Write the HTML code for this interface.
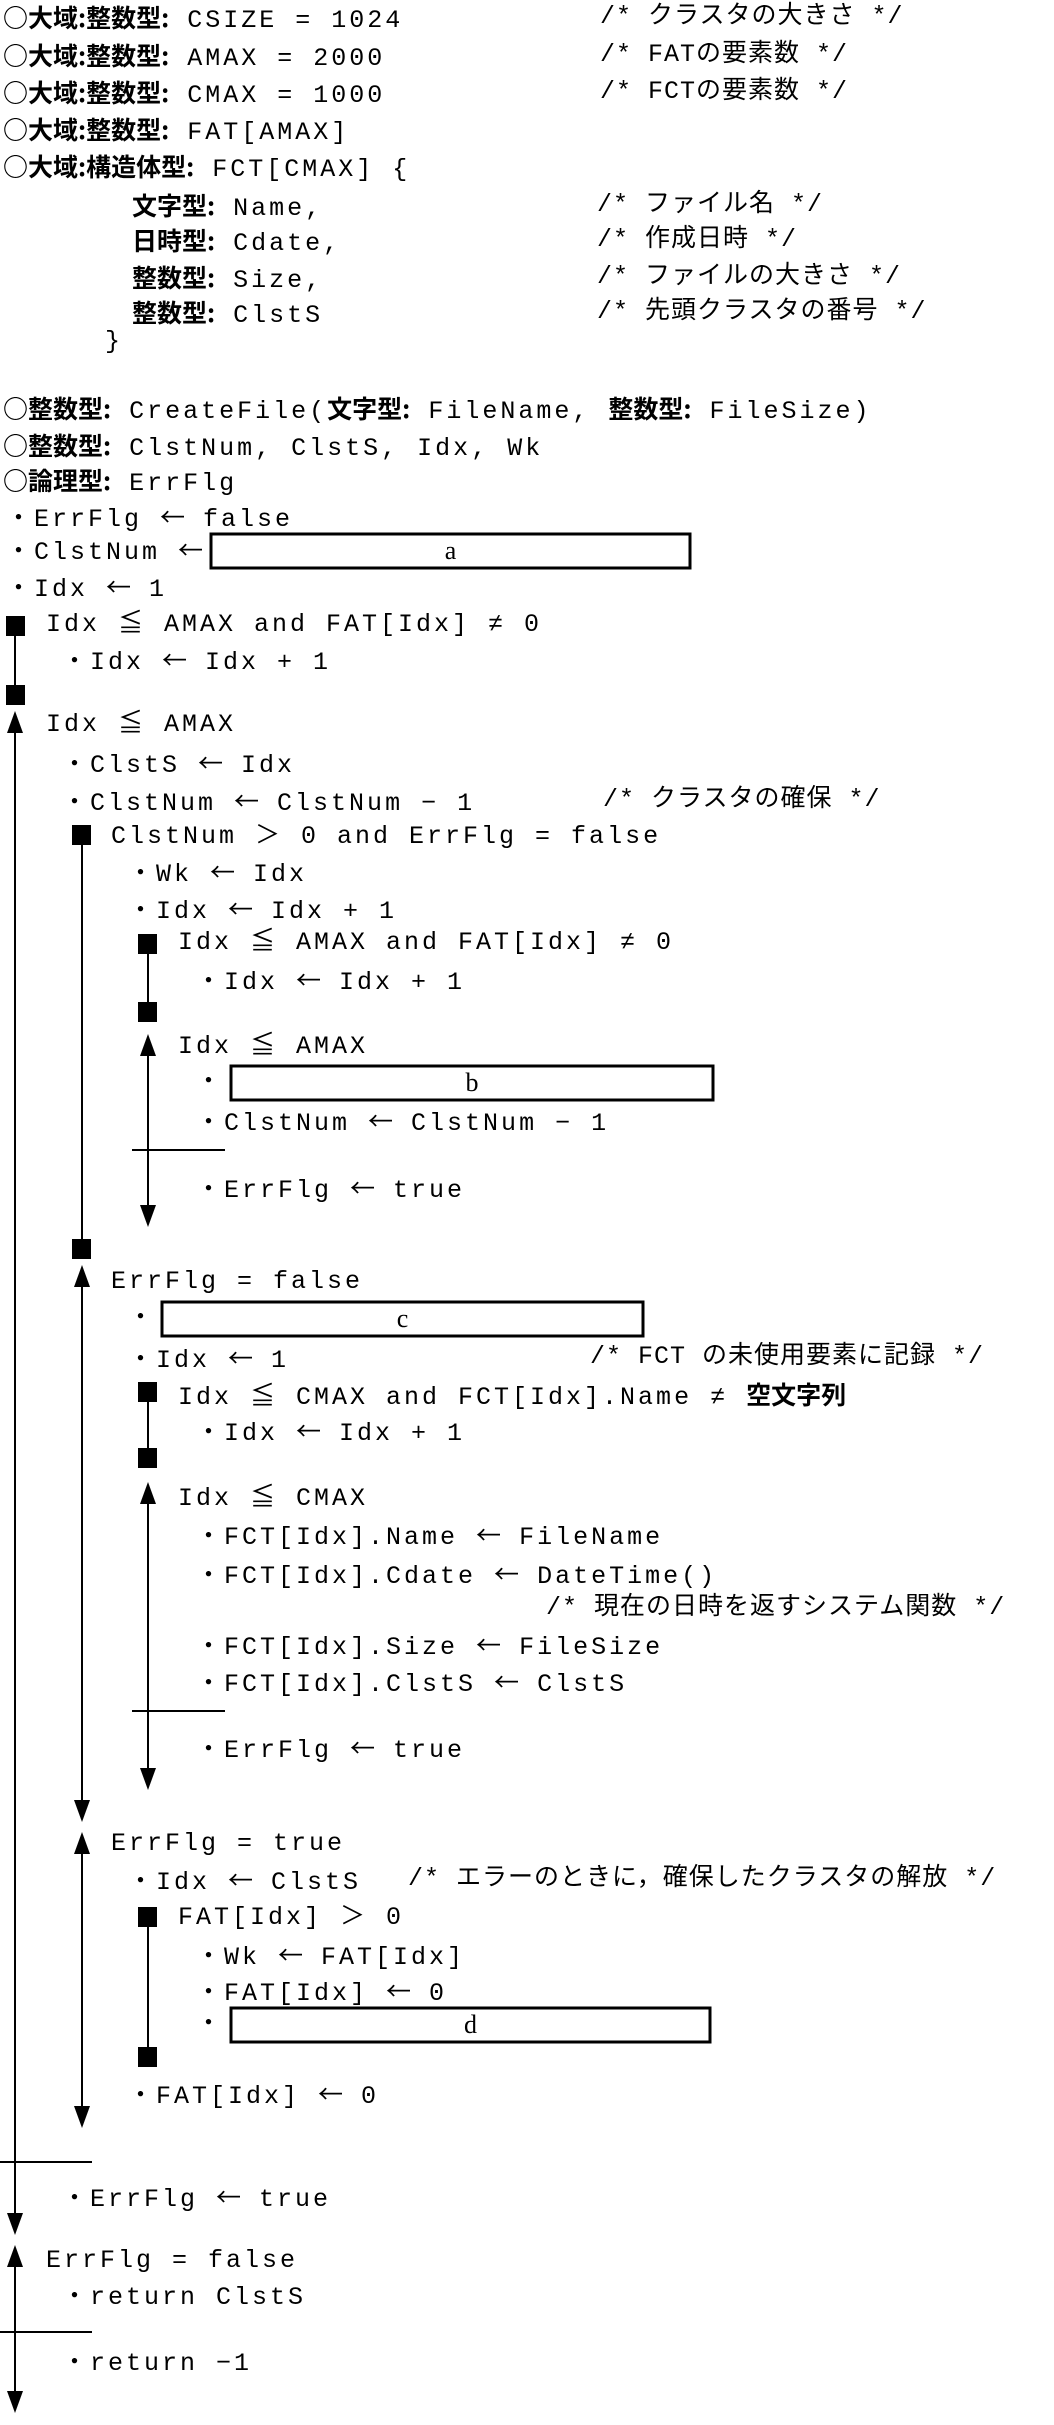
<!DOCTYPE html>
<html><head><meta charset="utf-8"><style>
body{margin:0;background:#fff;width:1054px;height:2425px;position:relative;overflow:hidden}
.t{position:absolute;white-space:pre;font-family:"Liberation Mono","Noto Sans CJK JP",monospace;font-size:25px;line-height:28px;letter-spacing:3px;color:#000}
.j{font-family:"Noto Sans CJK JP",sans-serif;letter-spacing:0;font-weight:bold}
.a{font-family:"Noto Sans CJK JP",sans-serif;letter-spacing:0}
.c{font-family:"Liberation Mono","Noto Sans CJK JP",monospace;letter-spacing:1px}
.bl{position:absolute;font-family:"Liberation Serif",serif;font-size:26px;text-align:center;line-height:30px}
svg{position:absolute;left:0;top:0}
</style></head><body>
<svg width="1054" height="2425">
<g fill="#000" stroke="none">
<rect x="6" y="616" width="19" height="20"/><rect x="6" y="685" width="19" height="20"/>
<rect x="72" y="825" width="19" height="20"/><rect x="72" y="1239" width="19" height="20"/>
<rect x="138" y="934" width="19" height="20"/><rect x="138" y="1002" width="19" height="20"/>
<rect x="138" y="1382" width="19" height="20"/><rect x="138" y="1448" width="19" height="20"/>
<rect x="138" y="1907" width="19" height="20"/><rect x="138" y="2047" width="19" height="20"/>
<polygon points="7,733 23,733 15,711"/><polygon points="7,2213 23,2213 15,2235"/>
<polygon points="140,1056 156,1056 148,1034"/><polygon points="140,1205 156,1205 148,1227"/>
<polygon points="74,1287 90,1287 82,1265"/><polygon points="74,1800 90,1800 82,1822"/>
<polygon points="140,1504 156,1504 148,1482"/><polygon points="140,1768 156,1768 148,1790"/>
<polygon points="74,1854 90,1854 82,1832"/><polygon points="74,2106 90,2106 82,2128"/>
<polygon points="7,2267 23,2267 15,2245"/><polygon points="7,2391 23,2391 15,2413"/>
</g>
<g stroke="#000" stroke-width="2" fill="none">
<line x1="15" y1="636" x2="15" y2="685"/>
<line x1="15" y1="733" x2="15" y2="2214"/><line x1="0" y1="2162" x2="92" y2="2162"/>
<line x1="82" y1="845" x2="82" y2="1239"/>
<line x1="148" y1="954" x2="148" y2="1002"/>
<line x1="148" y1="1056" x2="148" y2="1206"/><line x1="132" y1="1150" x2="225" y2="1150"/>
<line x1="82" y1="1287" x2="82" y2="1801"/>
<line x1="148" y1="1402" x2="148" y2="1448"/>
<line x1="148" y1="1504" x2="148" y2="1769"/><line x1="132" y1="1711" x2="225" y2="1711"/>
<line x1="82" y1="1854" x2="82" y2="2107"/>
<line x1="148" y1="1927" x2="148" y2="2047"/>
<line x1="15" y1="2267" x2="15" y2="2392"/><line x1="0" y1="2332" x2="92" y2="2332"/>
</g>
<g stroke="#000" stroke-width="3" fill="#fff">
<rect x="211" y="534" width="479" height="34"/>
<rect x="231" y="1066" width="482" height="34"/>
<rect x="162" y="1302" width="481" height="34"/>
<rect x="231" y="2008" width="479" height="34"/>
</g>
</svg>
<div class="bl" style="left:211px;top:536px;width:479px">a</div>
<div class="bl" style="left:231px;top:1068px;width:482px">b</div>
<div class="bl" style="left:162px;top:1304px;width:481px">c</div>
<div class="bl" style="left:231px;top:2010px;width:479px">d</div>

<div class="t" style="left:3px;top:3px"><span class="j">○大域:整数型:</span> CSIZE = 1024</div>
<div class="t c" style="left:600px;top:3px">/* クラスタの大きさ */</div>
<div class="t" style="left:3px;top:41px"><span class="j">○大域:整数型:</span> AMAX = 2000</div>
<div class="t c" style="left:600px;top:41px">/* FATの要素数 */</div>
<div class="t" style="left:3px;top:78px"><span class="j">○大域:整数型:</span> CMAX = 1000</div>
<div class="t c" style="left:600px;top:78px">/* FCTの要素数 */</div>
<div class="t" style="left:3px;top:115px"><span class="j">○大域:整数型:</span> FAT[AMAX]</div>
<div class="t" style="left:3px;top:152px"><span class="j">○大域:構造体型:</span> FCT[CMAX] {</div>
<div class="t" style="left:132px;top:191px"><span class="j">文字型:</span> Name,</div>
<div class="t c" style="left:597px;top:191px">/* ファイル名 */</div>
<div class="t" style="left:132px;top:226px"><span class="j">日時型:</span> Cdate,</div>
<div class="t c" style="left:597px;top:226px">/* 作成日時 */</div>
<div class="t" style="left:132px;top:263px"><span class="j">整数型:</span> Size,</div>
<div class="t c" style="left:597px;top:263px">/* ファイルの大きさ */</div>
<div class="t" style="left:132px;top:298px"><span class="j">整数型:</span> ClstS</div>
<div class="t c" style="left:597px;top:298px">/* 先頭クラスタの番号 */</div>
<div class="t" style="left:105px;top:328px">}</div>

<div class="t" style="left:3px;top:394px"><span class="j">○整数型:</span> CreateFile(<span class="j">文字型:</span> FileName, <span class="j">整数型:</span> FileSize)</div>
<div class="t" style="left:3px;top:431px"><span class="j">○整数型:</span> ClstNum, ClstS, Idx, Wk</div>
<div class="t" style="left:3px;top:466px"><span class="j">○論理型:</span> ErrFlg</div>
<div class="t" style="left:6px;top:502px">・ErrFlg <span class="a">←</span> false</div>
<div class="t" style="left:6px;top:535px">・ClstNum <span class="a">←</span></div>
<div class="t" style="left:6px;top:572px">・Idx <span class="a">←</span> 1</div>
<div class="t" style="left:46px;top:611px">Idx ≦ AMAX and FAT[Idx] ≠ 0</div>
<div class="t" style="left:62px;top:645px">・Idx <span class="a">←</span> Idx + 1</div>
<div class="t" style="left:46px;top:711px">Idx ≦ AMAX</div>
<div class="t" style="left:62px;top:748px">・ClstS <span class="a">←</span> Idx</div>
<div class="t" style="left:62px;top:786px">・ClstNum <span class="a">←</span> ClstNum − 1</div>
<div class="t c" style="left:603px;top:786px">/* クラスタの確保 */</div>
<div class="t" style="left:111px;top:823px">ClstNum ＞ 0 and ErrFlg = false</div>
<div class="t" style="left:128px;top:857px">・Wk <span class="a">←</span> Idx</div>
<div class="t" style="left:128px;top:894px">・Idx <span class="a">←</span> Idx + 1</div>
<div class="t" style="left:178px;top:929px">Idx ≦ AMAX and FAT[Idx] ≠ 0</div>
<div class="t" style="left:196px;top:965px">・Idx <span class="a">←</span> Idx + 1</div>
<div class="t" style="left:178px;top:1033px">Idx ≦ AMAX</div>
<div class="t" style="left:196px;top:1069px">・</div>
<div class="t" style="left:196px;top:1106px">・ClstNum <span class="a">←</span> ClstNum − 1</div>
<div class="t" style="left:196px;top:1173px">・ErrFlg <span class="a">←</span> true</div>
<div class="t" style="left:111px;top:1268px">ErrFlg = false</div>
<div class="t" style="left:128px;top:1305px">・</div>
<div class="t" style="left:128px;top:1343px">・Idx <span class="a">←</span> 1</div>
<div class="t c" style="left:590px;top:1343px">/* FCT の未使用要素に記録 */</div>
<div class="t" style="left:178px;top:1380px">Idx ≦ CMAX and FCT[Idx].Name ≠ <span class="j">空文字列</span></div>
<div class="t" style="left:196px;top:1416px">・Idx <span class="a">←</span> Idx + 1</div>
<div class="t" style="left:178px;top:1485px">Idx ≦ CMAX</div>
<div class="t" style="left:196px;top:1520px">・FCT[Idx].Name <span class="a">←</span> FileName</div>
<div class="t" style="left:196px;top:1559px">・FCT[Idx].Cdate <span class="a">←</span> DateTime()</div>
<div class="t c" style="left:546px;top:1594px">/* 現在の日時を返すシステム関数 */</div>
<div class="t" style="left:196px;top:1630px">・FCT[Idx].Size <span class="a">←</span> FileSize</div>
<div class="t" style="left:196px;top:1667px">・FCT[Idx].ClstS <span class="a">←</span> ClstS</div>
<div class="t" style="left:196px;top:1733px">・ErrFlg <span class="a">←</span> true</div>
<div class="t" style="left:111px;top:1830px">ErrFlg = true</div>
<div class="t" style="left:128px;top:1865px">・Idx <span class="a">←</span> ClstS</div>
<div class="t c" style="left:408px;top:1865px">/* エラーのときに，確保したクラスタの解放 */</div>
<div class="t" style="left:178px;top:1904px">FAT[Idx] ＞ 0</div>
<div class="t" style="left:196px;top:1940px">・Wk <span class="a">←</span> FAT[Idx]</div>
<div class="t" style="left:196px;top:1976px">・FAT[Idx] <span class="a">←</span> 0</div>
<div class="t" style="left:196px;top:2011px">・</div>
<div class="t" style="left:128px;top:2079px">・FAT[Idx] <span class="a">←</span> 0</div>
<div class="t" style="left:62px;top:2182px">・ErrFlg <span class="a">←</span> true</div>
<div class="t" style="left:46px;top:2247px">ErrFlg = false</div>
<div class="t" style="left:62px;top:2284px">・return ClstS</div>
<div class="t" style="left:62px;top:2350px">・return −1</div>
</body></html>
